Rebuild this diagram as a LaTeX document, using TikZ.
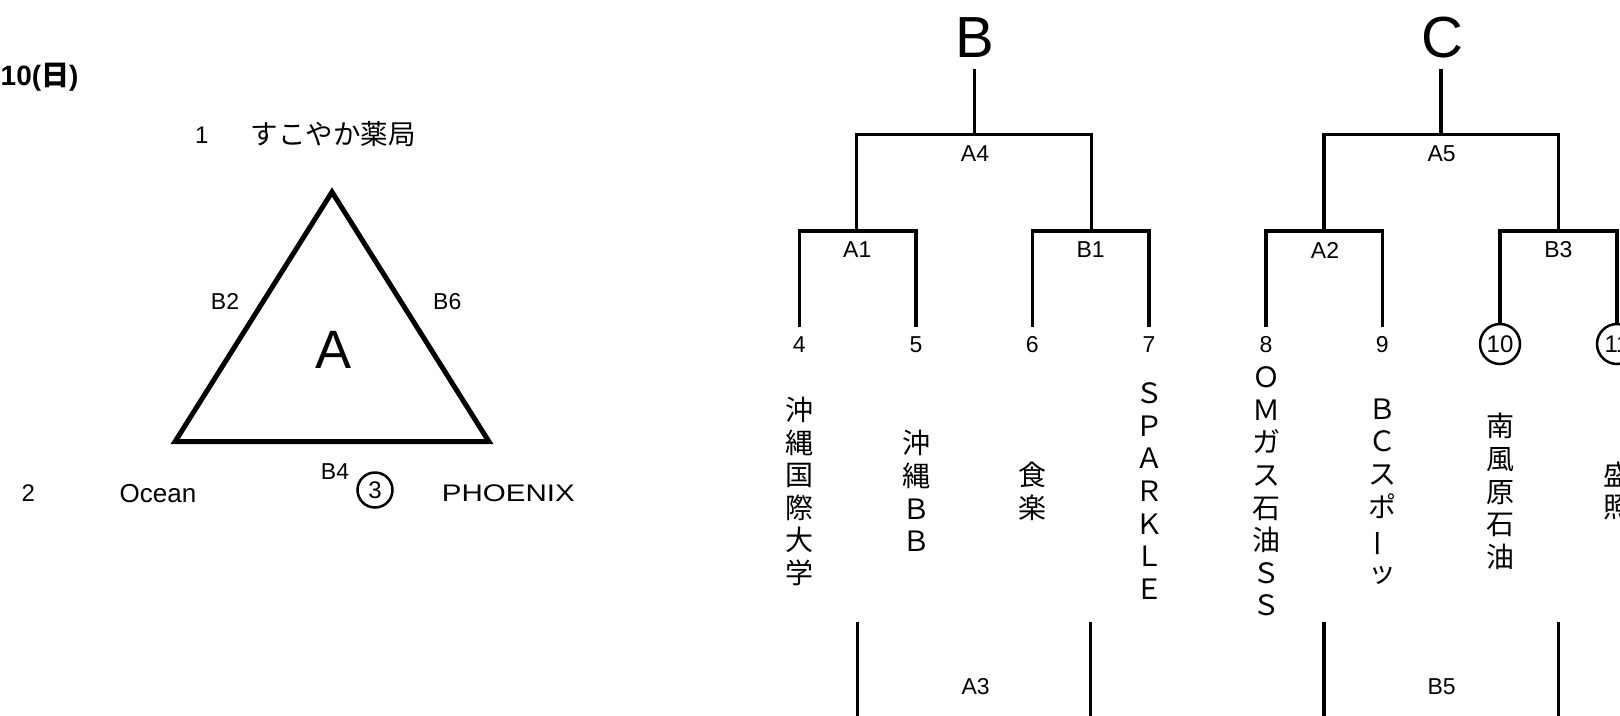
\documentclass[tikz,border=0pt]{standalone}
\usepackage{fontspec}
\setmainfont{Liberation Sans}
\newfontfamily\jp{Noto Sans CJK JP}
\begin{document}
\begin{tikzpicture}[x=1pt,y=-1pt,
  lat/.style={inner sep=0pt, font=\fontsize{23}{27}\selectfont},
  small/.style={inner sep=0pt, font=\fontsize{23}{27}\selectfont},
  big/.style={inner sep=0pt, font=\fontsize{58}{60}\selectfont},
  vt/.style={inner sep=0pt, align=center, font=\jp\fontsize{28}{32.6}\selectfont},
  brk/.style={line width=3.5pt, line join=miter},
  tri/.style={line width=5pt, line join=miter},
  circnum/.style={circle, draw, line width=2.5pt, minimum size=40pt, inner sep=0pt, font=\fontsize{24}{27}\selectfont}]
\useasboundingbox (0,0) rectangle (1620,715);
\clip (0,0) rectangle (1620,715);
\fill[white] (0,0) rectangle (1620,715);

% ---------- left: date and group A ----------
\node[inner sep=0pt, anchor=west, font=\bfseries\fontsize{28}{30}\selectfont] (date) at (0.5,77) {10({\jp 日})};
\node[inner sep=0pt, font=\fontsize{24}{28}\selectfont] (n1) at (201.7,135) {1};
\node[inner sep=0pt, font=\jp\fontsize{27.5}{30}\selectfont] (t1) at (333,134) {すこやか薬局};

\coordinate (tA) at (332,192);
\coordinate (tL) at (175,441.7);
\coordinate (tR) at (489,441.7);
\draw[tri] (tA) -- (tL) -- (tR) -- cycle;
\node[inner sep=0pt, font=\fontsize{54}{56}\selectfont] (gA) at (333.3,350) {A};
\node[small] (b2) at (225,301.7) {B2};
\node[small] (b6) at (447.3,301.7) {B6};
\node[small] (b4) at (335,471.7) {B4};
\node[circnum, minimum size=35pt] (c3) at (375,490) {3};
\node[inner sep=0pt, font=\fontsize{24}{28}\selectfont] (n2) at (28.3,493.3) {2};
\node[inner sep=0pt, font=\fontsize{26}{30}\selectfont] (ocean) at (158,493.3) {Ocean};
\node[inner sep=0pt, font=\fontsize{24}{28}\selectfont] (phx) at (508.3,493) {\scalebox{1.23}[1]{PHOENIX}};

% ---------- group B ----------
\node[big] (gB) at (975,37.5) {B};
\coordinate (Bt) at (974.3,69.3);
\coordinate (A4m) at (974.3,134.3);
\coordinate (A4l) at (856.7,134.3);
\coordinate (A4r) at (1091.7,134.3);
\draw[brk] (Bt) -- (A4m);
\coordinate (A1m) at (856.7,231);
\coordinate (B1m) at (1091.7,231);
\draw[brk] (A1m) -- (A4l) -- (A4r) -- (B1m);
\node[lat] (lA4) at (975,153.3) {A4};

\coordinate (A1l) at (799.3,231);  \coordinate (A1lb) at (799.3,327);
\coordinate (A1r) at (916,231);    \coordinate (A1rb) at (916,327);
\draw[brk] (A1lb) -- (A1l) -- (A1r) -- (A1rb);
\node[lat] (lA1) at (857.3,250) {A1};

\coordinate (B1l) at (1032.3,231); \coordinate (B1lb) at (1032.3,327);
\coordinate (B1r) at (1149,231);   \coordinate (B1rb) at (1149,327);
\draw[brk] (B1lb) -- (B1l) -- (B1r) -- (B1rb);
\node[lat] (lB1) at (1090.7,250) {B1};

\node[lat] (n4) at (799.3,345) {4};
\node[lat] (n5) at (916,345) {5};
\node[lat] (n6) at (1032.3,345) {6};
\node[lat] (n7) at (1149,345) {7};

\node[vt] (v4) at (799.3,491.5) {沖\\縄\\国\\際\\大\\学};
\node[vt] (v5) at (916,491) {沖\\縄\\Ｂ\\Ｂ};
\node[vt] (v6) at (1032.3,491.5) {食\\楽};
\node[vt] (v7) at (1149,491) {Ｓ\\Ｐ\\Ａ\\Ｒ\\Ｋ\\Ｌ\\Ｅ};

\coordinate (A3lt) at (857.3,621.7); \coordinate (A3lb) at (857.3,720);
\coordinate (A3rt) at (1090.7,621.7); \coordinate (A3rb) at (1090.7,720);
\draw[brk] (A3lt) -- (A3lb);
\draw[brk] (A3rt) -- (A3rb);
\node[lat] (lA3) at (975.7,687) {A3};

% ---------- group C ----------
\node[big] (gC) at (1442.5,37.5) {C};
\coordinate (Ct) at (1441,69.3);
\coordinate (A5m) at (1441,134.3);
\coordinate (A5l) at (1324,134.3);
\coordinate (A5r) at (1558.3,134.3);
\draw[brk] (Ct) -- (A5m);
\coordinate (A2m) at (1324,231);
\coordinate (B3m) at (1558.3,231);
\draw[brk] (A2m) -- (A5l) -- (A5r) -- (B3m);
\node[lat] (lA5) at (1441.7,153.3) {A5};

\coordinate (A2l) at (1266,231);   \coordinate (A2lb) at (1266,327);
\coordinate (A2r) at (1382.3,231); \coordinate (A2rb) at (1382.3,327);
\draw[brk] (A2lb) -- (A2l) -- (A2r) -- (A2rb);
\node[lat] (lA2) at (1325,250) {A2};

\node[lat] (n8) at (1266,345) {8};
\node[lat] (n9) at (1382.3,345) {9};
\node[circnum] (c10) at (1500,344) {10};
\node[circnum] (c11) at (1617,344) {11};

\coordinate (B3l) at (1500,231);
\coordinate (B3r) at (1617,231);
\draw[brk] (c10.north) -- (B3l) -- (B3r) -- (c11.north);
\node[lat] (lB3) at (1558.3,250) {B3};

\node[vt] (v8) at (1266,491.5) {Ｏ\\Ｍ\\ガ\\ス\\石\\油\\Ｓ\\Ｓ};
\node[vt] (v9) at (1382.3,491.5) {Ｂ\\Ｃ\\ス\\ポ\\\rotatebox[origin=c]{90}{ー}\\ッ};
\node[vt] (v10) at (1500,491.5) {南\\風\\原\\石\\油};
\node[vt] (v11) at (1617,491) {盛\\照};

\coordinate (B5lt) at (1324,621.7); \coordinate (B5lb) at (1324,720);
\coordinate (B5rt) at (1558.3,621.7); \coordinate (B5rb) at (1558.3,720);
\draw[brk] (B5lt) -- (B5lb);
\draw[brk] (B5rt) -- (B5rb);
\node[lat] (lB5) at (1441.7,687) {B5};
\end{tikzpicture}
\end{document}
